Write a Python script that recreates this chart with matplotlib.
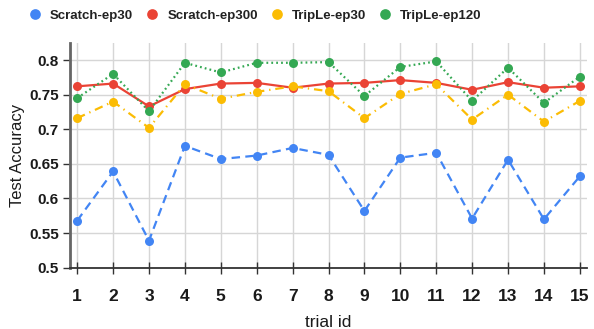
import matplotlib
matplotlib.use("Agg")
import matplotlib.pyplot as plt
from matplotlib.lines import Line2D

plt.rcParams['font.family'] = ['Liberation Sans', 'DejaVu Sans']

# data
trials = list(range(1, 16))
scratch_ep30 = [0.568, 0.639, 0.539, 0.676, 0.657, 0.662, 0.673, 0.663,
                0.582, 0.659, 0.666, 0.571, 0.656, 0.570, 0.632]
scratch_ep300 = [0.762, 0.766, 0.733, 0.758, 0.766, 0.767, 0.760, 0.766,
                 0.767, 0.771, 0.767, 0.757, 0.768, 0.760, 0.762]
triple_ep30 = [0.716, 0.740, 0.702, 0.765, 0.744, 0.754, 0.762, 0.755,
               0.716, 0.751, 0.765, 0.714, 0.750, 0.711, 0.741]
triple_ep120 = [0.745, 0.780, 0.726, 0.796, 0.782, 0.796, 0.796, 0.797,
                0.748, 0.790, 0.798, 0.741, 0.789, 0.738, 0.776]

series = [
    ("Scratch-ep30", scratch_ep30, "#4285F4", (0, (3.8, 2.4))),
    ("Scratch-ep300", scratch_ep300, "#EA4335", "-"),
    ("TripLe-ep30", triple_ep30, "#FBBC04", (0, (3.8, 2.2, 0.6, 2.2))),
    ("TripLe-ep120", triple_ep120, "#34A853", (0, (0.8, 1.4))),
]

fig = plt.figure(figsize=(5.94, 3.29), dpi=100)
ax = fig.add_axes([70 / 594, 1 - 267.7 / 329, 517 / 594, (267.7 - 43) / 329])

handles = []
for name, vals, color, ls in series:
    ax.plot(trials, vals, color=color, linestyle=ls, linewidth=1.6,
            marker="o", markersize=6.5, markeredgewidth=0, zorder=3)
    handles.append(Line2D([], [], color=color, marker="o", linestyle="none",
                          markersize=7.7, markeredgewidth=0, label=name))

ax.set_xlim(0.8, 15.2)
ax.set_ylim(0.5, 0.8246)
ax.set_xticks(trials)
ax.set_yticks([0.5, 0.55, 0.6, 0.65, 0.7, 0.75, 0.8])
ax.set_yticklabels(["0.5", "0.55", "0.6", "0.65", "0.7", "0.75", "0.8"])
ax.grid(True, color="#d6d6d6", linewidth=1.0, zorder=0)
ax.set_axisbelow(True)

for s in ["top", "right"]:
    ax.spines[s].set_visible(False)
ax.spines["left"].set_color("#666666")
ax.spines["left"].set_linewidth(2)
ax.spines["bottom"].set_color("#333333")
ax.spines["bottom"].set_linewidth(1.3)

ax.tick_params(axis="y", direction="out", length=5, width=1, color="#333333",
               labelsize=11, pad=3, labelcolor="#1a1a1a")
ax.tick_params(axis="x", direction="inout", length=8, width=1, color="#333333",
               labelsize=12.5, pad=11, labelcolor="#1a1a1a")
for lab in ax.get_xticklabels() + ax.get_yticklabels():
    lab.set_fontweight("bold")

ax.set_ylabel("Test Accuracy", fontsize=12, color="#1a1a1a", labelpad=3)
ax.set_xlabel("trial id", fontsize=12.5, color="#1a1a1a", labelpad=8)

fig.legend(handles=handles, loc="center left", bbox_to_anchor=(28.4 / 594, 1 - 16 / 329),
           ncol=4, frameon=False, handlelength=1.0, handletextpad=0.64,
           columnspacing=0.94, borderpad=0, borderaxespad=0,
           prop={"size": 9.5, "weight": "bold"}, labelcolor="#222222")

fig.savefig("out.png", dpi=100)
